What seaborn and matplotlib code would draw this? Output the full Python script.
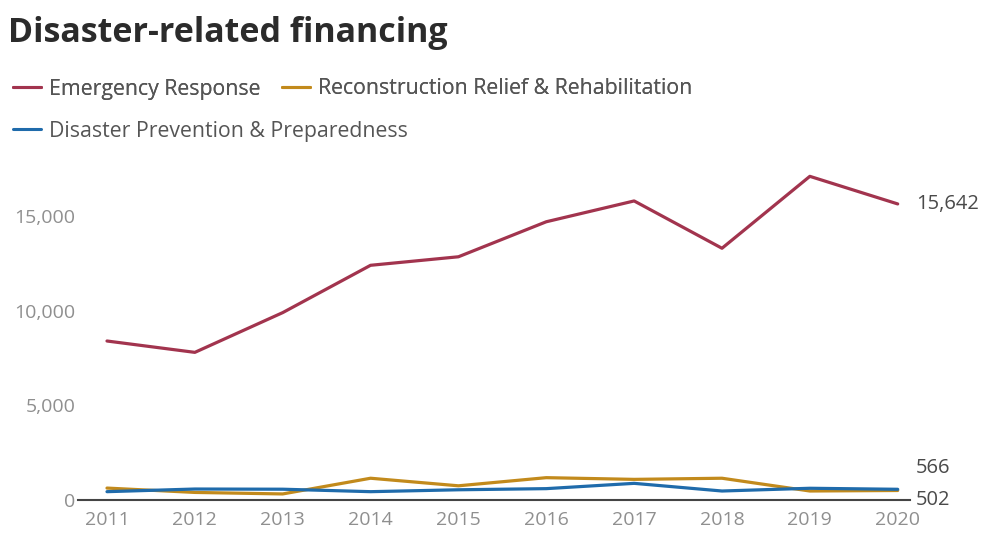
import matplotlib
matplotlib.use("Agg")
import matplotlib.pyplot as plt
import seaborn as sns
import pandas as pd
from matplotlib.lines import Line2D

years = [2011, 2012, 2013, 2014, 2015, 2016, 2017, 2018, 2019, 2020]
emergency = [8400, 7800, 9900, 12400, 12850, 14700, 15800, 13300, 17100, 15642]
reconstruction = [630, 400, 320, 1150, 750, 1180, 1090, 1150, 475, 502]
prevention = [440, 580, 570, 440, 540, 600, 880, 475, 620, 566]
series_names = ["Emergency Response", "Reconstruction Relief & Rehabilitation",
                "Disaster Prevention & Preparedness"]
colors = ["#a2344e", "#c28a1c", "#1f6bab"]
yticks = [0, 5000, 10000, 15000]

df = pd.concat([
    pd.DataFrame({"year": years, "value": v, "series": n})
    for v, n in zip([emergency, reconstruction, prevention], series_names)
])

sns.set_theme(style="white")
plt.rcParams["font.family"] = ["Open Sans", "DejaVu Sans"]

fig = plt.figure(figsize=(9.84, 5.34), dpi=100)
ax = fig.add_axes([78/984, 1-500/534, (910-78)/984, (500-159.3)/534])

sns.lineplot(data=df, x="year", y="value", hue="series", palette=colors,
             hue_order=series_names, linewidth=2.3, ax=ax, legend=False)

ax.set_xlim(2010.67, 2020.14)
ax.set_ylim(0, 18000)
ax.set_xticks(years)
ax.set_xticklabels([str(y) for y in years])
ax.set_yticks(yticks)
ax.set_yticklabels([f"{t:,}" for t in yticks])
ax.tick_params(axis="both", length=0, labelsize=14, colors="#8f8f8f")
ax.tick_params(axis="y", pad=2)
ax.tick_params(axis="x", pad=8)
ax.set_xlabel("")
ax.set_ylabel("")
for s in ["top", "right", "left"]:
    ax.spines[s].set_visible(False)
ax.spines["bottom"].set_color("#444444")
ax.spines["bottom"].set_linewidth(1.5)
ax.grid(False)

# end labels
lab_kw = dict(textcoords="offset points", va="center", ha="left", fontsize=14.5,
              color="#4a4a4a", annotation_clip=False)
ax.annotate(f"{emergency[-1]:,}", xy=(years[-1], emergency[-1]), xytext=(13, 0), **lab_kw)
ax.annotate(f"{prevention[-1]:,}", xy=(years[-1], prevention[-1]), xytext=(13, 15), **lab_kw)
ax.annotate(f"{reconstruction[-1]:,}", xy=(years[-1], reconstruction[-1]), xytext=(13, -7), **lab_kw)

fig.text(8/984, 1-33/534, "Disaster-related financing", fontsize=24.5, fontweight="bold",
         color="#2b2b2b", va="center", ha="left")

handles = [Line2D([0], [0], color=c, lw=2.2) for c in colors]
leg1 = fig.legend(handles[:2], series_names[:2], loc="center left",
                  bbox_to_anchor=(-6/984, 1-89/534), ncol=2, frameon=False,
                  fontsize=15.3, handlelength=1.3, handletextpad=0.4, columnspacing=1.0,
                  labelcolor="#555555")
leg2 = fig.legend(handles[2:], series_names[2:], loc="center left",
                  bbox_to_anchor=(-6/984, 1-131/534), frameon=False,
                  fontsize=15.3, handlelength=1.3, handletextpad=0.4,
                  labelcolor="#555555")
fig.add_artist(leg1)

fig.savefig("out.png", dpi=100, facecolor="white")
